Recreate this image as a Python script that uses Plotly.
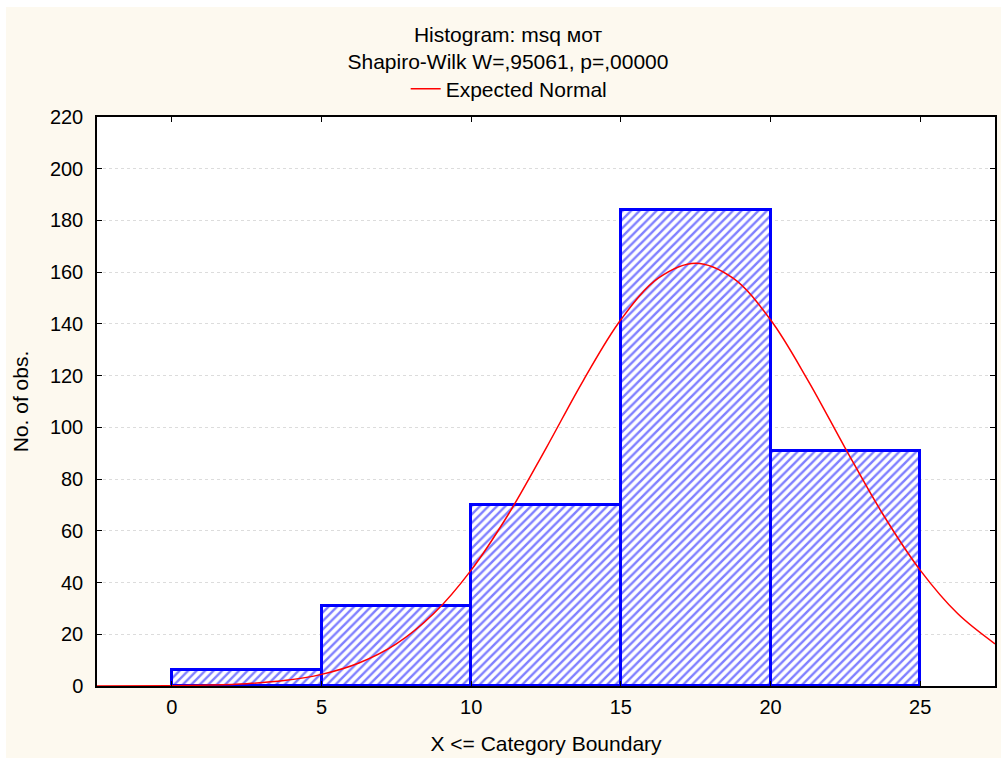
import plotly.graph_objects as go

# histogram bins (upper category boundary) and counts
bin_left = [0, 5, 10, 15, 20]
bin_width = 5
counts = [6, 31, 70, 184, 91]

# expected normal curve
curve_x = [-2.5, 0, 1.25, 2.5, 3.75, 5, 6.25, 7.5, 8.75, 10, 11.25, 12.5, 13.75, 15, 16.25,
           17.5, 18.75, 20, 21.25, 22.5, 23.75, 25, 26.25, 27.5]
curve_y = [0.02, 0.14, 0.37, 0.9, 2.1, 4.5, 8.9, 16.3, 28.0, 44.8, 66.5, 91.9, 118.2, 141.6, 157.7,
           163.5, 157.7, 141.6, 118.2, 91.9, 66.5, 44.8, 28.0, 16.3]

x_ticks = [0, 5, 10, 15, 20, 25]
y_ticks = list(range(0, 221, 20))

font = 'Liberation Sans, Arial, sans-serif'
cream = '#fdf9ef'

fig = go.Figure()
fig.add_trace(go.Bar(
    x=[b + bin_width / 2 for b in bin_left], y=counts, width=bin_width,
    marker=dict(color='white', line=dict(color='#0000ff', width=3),
                pattern=dict(shape='/', fgcolor='#0000ff', bgcolor='white', size=6, solidity=0.4)),
    showlegend=False, hoverinfo='x+y'))
fig.add_trace(go.Scatter(
    x=curve_x, y=curve_y, mode='lines', line=dict(color='#ff0000', width=1.5, shape='spline'),
    name='Expected Normal'))

# page body gets a small white margin on top/left, figure fills the rest
fig.update_layout(
    width=995, height=751,
    margin=dict(l=91, r=4, t=110, b=72),
    paper_bgcolor=cream, plot_bgcolor='white',
    font=dict(family=font, size=20, color='black'),
    title=dict(text='Histogram: msq мот<br>Shapiro-Wilk W=,95061, p=,00000',
               x=0.5045, xanchor='center', y=0.954, yanchor='middle',
               font=dict(size=21)),
    legend=dict(orientation='h', x=0.459, xanchor='center', y=1.0492, yanchor='middle',
                bgcolor='rgba(0,0,0,0)', font=dict(size=21), itemwidth=30),
    bargap=0,
)
fig.update_xaxes(
    range=[-2.5, 27.5], tickvals=x_ticks, showgrid=False, zeroline=False,
    showline=True, linecolor='black', linewidth=1.5, mirror='ticks',
    ticks='inside', ticklen=5, tickcolor='black', ticklabelstandoff=2,
    title=dict(text='X <= Category Boundary', standoff=20, font=dict(size=21)))
fig.update_yaxes(
    range=[0, 220], tickvals=y_ticks, showgrid=True, gridcolor='#dcdcdc', griddash='dot',
    gridwidth=1, zeroline=False,
    showline=True, linecolor='black', linewidth=1.5, mirror='ticks',
    ticks='inside', ticklen=5, tickcolor='black', ticklabelstandoff=8,
    title=dict(text='No. of obs.', standoff=16, font=dict(size=21)))

page_style = ("document.body.style.margin='7px 0 0 6px';"
              "document.body.style.overflow='hidden';")
fig.write_html("out.html", post_script=page_style)
